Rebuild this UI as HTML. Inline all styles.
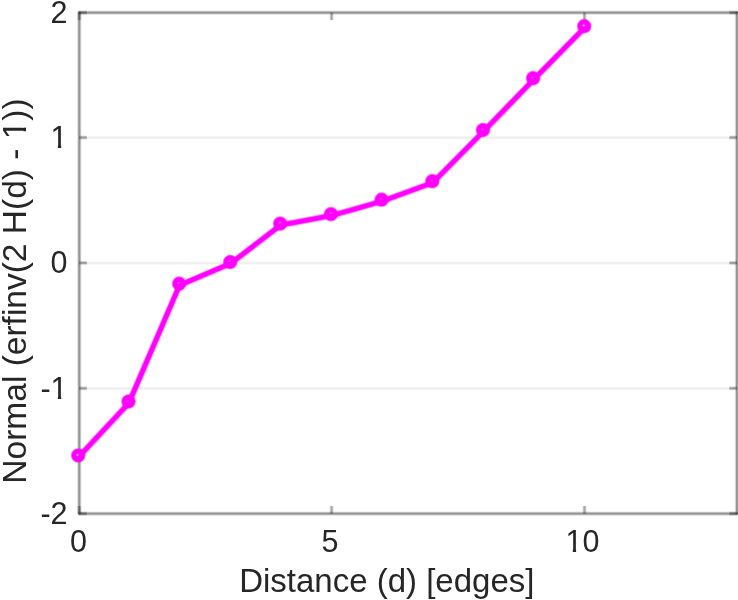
<!DOCTYPE html>
<html><head><meta charset="utf-8"><title>Normal plot</title>
<style>html,body{margin:0;padding:0;background:#fff;overflow:hidden}svg{display:block}text{font-family:"Liberation Sans",Arial,Helvetica,sans-serif;fill:#262626}</style></head><body>
<svg width="738" height="600" viewBox="0 0 738 600">
<rect width="738" height="600" fill="#fff"/>
<g>
<line x1="79.3" y1="388.5" x2="736.9" y2="388.5" stroke="#262626" stroke-opacity="0.03" stroke-width="3.2"/>
<line x1="79.3" y1="388.5" x2="736.9" y2="388.5" stroke="#262626" stroke-opacity="0.04" stroke-width="1.9"/>
<line x1="79.3" y1="263.1" x2="736.9" y2="263.1" stroke="#262626" stroke-opacity="0.03" stroke-width="3.2"/>
<line x1="79.3" y1="263.1" x2="736.9" y2="263.1" stroke="#262626" stroke-opacity="0.04" stroke-width="1.9"/>
<line x1="79.3" y1="137.7" x2="736.9" y2="137.7" stroke="#262626" stroke-opacity="0.03" stroke-width="3.2"/>
<line x1="79.3" y1="137.7" x2="736.9" y2="137.7" stroke="#262626" stroke-opacity="0.04" stroke-width="1.9"/>
<line x1="79.3" y1="11.6" x2="79.3" y2="514.6" stroke="#262626" stroke-opacity="0.08" stroke-width="4.6"/>
<line x1="79.3" y1="11.6" x2="79.3" y2="514.6" stroke="#262626" stroke-opacity="0.17" stroke-width="3.2"/>
<line x1="79.3" y1="11.6" x2="79.3" y2="514.6" stroke="#262626" stroke-opacity="0.35" stroke-width="1.8"/>
<line x1="736.9" y1="11.6" x2="736.9" y2="514.6" stroke="#262626" stroke-opacity="0.08" stroke-width="4.6"/>
<line x1="736.9" y1="11.6" x2="736.9" y2="514.6" stroke="#262626" stroke-opacity="0.17" stroke-width="3.2"/>
<line x1="736.9" y1="11.6" x2="736.9" y2="514.6" stroke="#262626" stroke-opacity="0.35" stroke-width="1.8"/>
<line x1="78.3" y1="12.6" x2="737.9" y2="12.6" stroke="#262626" stroke-opacity="0.08" stroke-width="4.6"/>
<line x1="78.3" y1="12.6" x2="737.9" y2="12.6" stroke="#262626" stroke-opacity="0.17" stroke-width="3.2"/>
<line x1="78.3" y1="12.6" x2="737.9" y2="12.6" stroke="#262626" stroke-opacity="0.35" stroke-width="1.8"/>
<line x1="78.3" y1="513.6" x2="737.9" y2="513.6" stroke="#262626" stroke-opacity="0.08" stroke-width="4.6"/>
<line x1="78.3" y1="513.6" x2="737.9" y2="513.6" stroke="#262626" stroke-opacity="0.17" stroke-width="3.2"/>
<line x1="78.3" y1="513.6" x2="737.9" y2="513.6" stroke="#262626" stroke-opacity="0.35" stroke-width="1.8"/>
<line x1="79.3" y1="513.6" x2="79.3" y2="506.1" stroke="#262626" stroke-opacity="0.06" stroke-width="4.6"/>
<line x1="79.3" y1="513.6" x2="79.3" y2="506.1" stroke="#262626" stroke-opacity="0.14" stroke-width="3.2"/>
<line x1="79.3" y1="513.6" x2="79.3" y2="506.1" stroke="#262626" stroke-opacity="0.28" stroke-width="1.8"/>
<line x1="79.3" y1="12.6" x2="79.3" y2="20.1" stroke="#262626" stroke-opacity="0.06" stroke-width="4.6"/>
<line x1="79.3" y1="12.6" x2="79.3" y2="20.1" stroke="#262626" stroke-opacity="0.14" stroke-width="3.2"/>
<line x1="79.3" y1="12.6" x2="79.3" y2="20.1" stroke="#262626" stroke-opacity="0.28" stroke-width="1.8"/>
<line x1="331.6" y1="513.6" x2="331.6" y2="506.1" stroke="#262626" stroke-opacity="0.06" stroke-width="4.6"/>
<line x1="331.6" y1="513.6" x2="331.6" y2="506.1" stroke="#262626" stroke-opacity="0.14" stroke-width="3.2"/>
<line x1="331.6" y1="513.6" x2="331.6" y2="506.1" stroke="#262626" stroke-opacity="0.28" stroke-width="1.8"/>
<line x1="331.6" y1="12.6" x2="331.6" y2="20.1" stroke="#262626" stroke-opacity="0.06" stroke-width="4.6"/>
<line x1="331.6" y1="12.6" x2="331.6" y2="20.1" stroke="#262626" stroke-opacity="0.14" stroke-width="3.2"/>
<line x1="331.6" y1="12.6" x2="331.6" y2="20.1" stroke="#262626" stroke-opacity="0.28" stroke-width="1.8"/>
<line x1="584.5" y1="513.6" x2="584.5" y2="506.1" stroke="#262626" stroke-opacity="0.06" stroke-width="4.6"/>
<line x1="584.5" y1="513.6" x2="584.5" y2="506.1" stroke="#262626" stroke-opacity="0.14" stroke-width="3.2"/>
<line x1="584.5" y1="513.6" x2="584.5" y2="506.1" stroke="#262626" stroke-opacity="0.28" stroke-width="1.8"/>
<line x1="584.5" y1="12.6" x2="584.5" y2="20.1" stroke="#262626" stroke-opacity="0.06" stroke-width="4.6"/>
<line x1="584.5" y1="12.6" x2="584.5" y2="20.1" stroke="#262626" stroke-opacity="0.14" stroke-width="3.2"/>
<line x1="584.5" y1="12.6" x2="584.5" y2="20.1" stroke="#262626" stroke-opacity="0.28" stroke-width="1.8"/>
<line x1="79.3" y1="513.6" x2="86.8" y2="513.6" stroke="#262626" stroke-opacity="0.06" stroke-width="4.6"/>
<line x1="79.3" y1="513.6" x2="86.8" y2="513.6" stroke="#262626" stroke-opacity="0.14" stroke-width="3.2"/>
<line x1="79.3" y1="513.6" x2="86.8" y2="513.6" stroke="#262626" stroke-opacity="0.28" stroke-width="1.8"/>
<line x1="736.9" y1="513.6" x2="729.4" y2="513.6" stroke="#262626" stroke-opacity="0.06" stroke-width="4.6"/>
<line x1="736.9" y1="513.6" x2="729.4" y2="513.6" stroke="#262626" stroke-opacity="0.14" stroke-width="3.2"/>
<line x1="736.9" y1="513.6" x2="729.4" y2="513.6" stroke="#262626" stroke-opacity="0.28" stroke-width="1.8"/>
<line x1="79.3" y1="388.3" x2="86.8" y2="388.3" stroke="#262626" stroke-opacity="0.06" stroke-width="4.6"/>
<line x1="79.3" y1="388.3" x2="86.8" y2="388.3" stroke="#262626" stroke-opacity="0.14" stroke-width="3.2"/>
<line x1="79.3" y1="388.3" x2="86.8" y2="388.3" stroke="#262626" stroke-opacity="0.28" stroke-width="1.8"/>
<line x1="736.9" y1="388.3" x2="729.4" y2="388.3" stroke="#262626" stroke-opacity="0.06" stroke-width="4.6"/>
<line x1="736.9" y1="388.3" x2="729.4" y2="388.3" stroke="#262626" stroke-opacity="0.14" stroke-width="3.2"/>
<line x1="736.9" y1="388.3" x2="729.4" y2="388.3" stroke="#262626" stroke-opacity="0.28" stroke-width="1.8"/>
<line x1="79.3" y1="262.9" x2="86.8" y2="262.9" stroke="#262626" stroke-opacity="0.06" stroke-width="4.6"/>
<line x1="79.3" y1="262.9" x2="86.8" y2="262.9" stroke="#262626" stroke-opacity="0.14" stroke-width="3.2"/>
<line x1="79.3" y1="262.9" x2="86.8" y2="262.9" stroke="#262626" stroke-opacity="0.28" stroke-width="1.8"/>
<line x1="736.9" y1="262.9" x2="729.4" y2="262.9" stroke="#262626" stroke-opacity="0.06" stroke-width="4.6"/>
<line x1="736.9" y1="262.9" x2="729.4" y2="262.9" stroke="#262626" stroke-opacity="0.14" stroke-width="3.2"/>
<line x1="736.9" y1="262.9" x2="729.4" y2="262.9" stroke="#262626" stroke-opacity="0.28" stroke-width="1.8"/>
<line x1="79.3" y1="137.5" x2="86.8" y2="137.5" stroke="#262626" stroke-opacity="0.06" stroke-width="4.6"/>
<line x1="79.3" y1="137.5" x2="86.8" y2="137.5" stroke="#262626" stroke-opacity="0.14" stroke-width="3.2"/>
<line x1="79.3" y1="137.5" x2="86.8" y2="137.5" stroke="#262626" stroke-opacity="0.28" stroke-width="1.8"/>
<line x1="736.9" y1="137.5" x2="729.4" y2="137.5" stroke="#262626" stroke-opacity="0.06" stroke-width="4.6"/>
<line x1="736.9" y1="137.5" x2="729.4" y2="137.5" stroke="#262626" stroke-opacity="0.14" stroke-width="3.2"/>
<line x1="736.9" y1="137.5" x2="729.4" y2="137.5" stroke="#262626" stroke-opacity="0.28" stroke-width="1.8"/>
<line x1="79.3" y1="12.6" x2="86.8" y2="12.6" stroke="#262626" stroke-opacity="0.06" stroke-width="4.6"/>
<line x1="79.3" y1="12.6" x2="86.8" y2="12.6" stroke="#262626" stroke-opacity="0.14" stroke-width="3.2"/>
<line x1="79.3" y1="12.6" x2="86.8" y2="12.6" stroke="#262626" stroke-opacity="0.28" stroke-width="1.8"/>
<line x1="736.9" y1="12.6" x2="729.4" y2="12.6" stroke="#262626" stroke-opacity="0.06" stroke-width="4.6"/>
<line x1="736.9" y1="12.6" x2="729.4" y2="12.6" stroke="#262626" stroke-opacity="0.14" stroke-width="3.2"/>
<line x1="736.9" y1="12.6" x2="729.4" y2="12.6" stroke="#262626" stroke-opacity="0.28" stroke-width="1.8"/>
</g>
<g>
<polyline fill="none" stroke="#ff00ff" stroke-opacity="0.30" stroke-width="6.8" stroke-linejoin="round" stroke-linecap="round" points="78.5,457.1 128.8,403.1 179.5,285.3 230.5,263.6 280.5,225.2 331.3,215.7 381.9,201.3 432.6,182.8 483.3,131.6 533.4,79.8 584.5,27.8"/>
<polyline fill="none" stroke="#ff00ff" stroke-opacity="0.55" stroke-width="5.4" stroke-linejoin="round" stroke-linecap="round" points="78.5,457.1 128.8,403.1 179.5,285.3 230.5,263.6 280.5,225.2 331.3,215.7 381.9,201.3 432.6,182.8 483.3,131.6 533.4,79.8 584.5,27.8"/>
<polyline fill="none" stroke="#ff00ff" stroke-opacity="1.00" stroke-width="4.3" stroke-linejoin="round" stroke-linecap="round" points="78.5,457.1 128.8,403.1 179.5,285.3 230.5,263.6 280.5,225.2 331.3,215.7 381.9,201.3 432.6,182.8 483.3,131.6 533.4,79.8 584.5,27.8"/>
<circle cx="78.2" cy="455.5" r="4.1" fill="none" stroke="#ff00ff" stroke-opacity="0.30" stroke-width="7.0"/>
<circle cx="78.2" cy="455.5" r="4.1" fill="none" stroke="#ff00ff" stroke-opacity="0.50" stroke-width="6.0"/>
<circle cx="78.2" cy="455.5" r="4.1" fill="none" stroke="#ff00ff" stroke-opacity="1.00" stroke-width="4.6"/>
<circle cx="128.5" cy="401.5" r="4.1" fill="none" stroke="#ff00ff" stroke-opacity="0.30" stroke-width="7.0"/>
<circle cx="128.5" cy="401.5" r="4.1" fill="none" stroke="#ff00ff" stroke-opacity="0.50" stroke-width="6.0"/>
<circle cx="128.5" cy="401.5" r="4.1" fill="none" stroke="#ff00ff" stroke-opacity="1.00" stroke-width="4.6"/>
<circle cx="179.2" cy="283.7" r="4.1" fill="none" stroke="#ff00ff" stroke-opacity="0.30" stroke-width="7.0"/>
<circle cx="179.2" cy="283.7" r="4.1" fill="none" stroke="#ff00ff" stroke-opacity="0.50" stroke-width="6.0"/>
<circle cx="179.2" cy="283.7" r="4.1" fill="none" stroke="#ff00ff" stroke-opacity="1.00" stroke-width="4.6"/>
<circle cx="230.2" cy="262.0" r="4.1" fill="none" stroke="#ff00ff" stroke-opacity="0.30" stroke-width="7.0"/>
<circle cx="230.2" cy="262.0" r="4.1" fill="none" stroke="#ff00ff" stroke-opacity="0.50" stroke-width="6.0"/>
<circle cx="230.2" cy="262.0" r="4.1" fill="none" stroke="#ff00ff" stroke-opacity="1.00" stroke-width="4.6"/>
<circle cx="280.2" cy="223.6" r="4.1" fill="none" stroke="#ff00ff" stroke-opacity="0.30" stroke-width="7.0"/>
<circle cx="280.2" cy="223.6" r="4.1" fill="none" stroke="#ff00ff" stroke-opacity="0.50" stroke-width="6.0"/>
<circle cx="280.2" cy="223.6" r="4.1" fill="none" stroke="#ff00ff" stroke-opacity="1.00" stroke-width="4.6"/>
<circle cx="331.0" cy="214.1" r="4.1" fill="none" stroke="#ff00ff" stroke-opacity="0.30" stroke-width="7.0"/>
<circle cx="331.0" cy="214.1" r="4.1" fill="none" stroke="#ff00ff" stroke-opacity="0.50" stroke-width="6.0"/>
<circle cx="331.0" cy="214.1" r="4.1" fill="none" stroke="#ff00ff" stroke-opacity="1.00" stroke-width="4.6"/>
<circle cx="381.6" cy="199.7" r="4.1" fill="none" stroke="#ff00ff" stroke-opacity="0.30" stroke-width="7.0"/>
<circle cx="381.6" cy="199.7" r="4.1" fill="none" stroke="#ff00ff" stroke-opacity="0.50" stroke-width="6.0"/>
<circle cx="381.6" cy="199.7" r="4.1" fill="none" stroke="#ff00ff" stroke-opacity="1.00" stroke-width="4.6"/>
<circle cx="432.3" cy="181.2" r="4.1" fill="none" stroke="#ff00ff" stroke-opacity="0.30" stroke-width="7.0"/>
<circle cx="432.3" cy="181.2" r="4.1" fill="none" stroke="#ff00ff" stroke-opacity="0.50" stroke-width="6.0"/>
<circle cx="432.3" cy="181.2" r="4.1" fill="none" stroke="#ff00ff" stroke-opacity="1.00" stroke-width="4.6"/>
<circle cx="483.0" cy="130.0" r="4.1" fill="none" stroke="#ff00ff" stroke-opacity="0.30" stroke-width="7.0"/>
<circle cx="483.0" cy="130.0" r="4.1" fill="none" stroke="#ff00ff" stroke-opacity="0.50" stroke-width="6.0"/>
<circle cx="483.0" cy="130.0" r="4.1" fill="none" stroke="#ff00ff" stroke-opacity="1.00" stroke-width="4.6"/>
<circle cx="533.1" cy="78.2" r="4.1" fill="none" stroke="#ff00ff" stroke-opacity="0.30" stroke-width="7.0"/>
<circle cx="533.1" cy="78.2" r="4.1" fill="none" stroke="#ff00ff" stroke-opacity="0.50" stroke-width="6.0"/>
<circle cx="533.1" cy="78.2" r="4.1" fill="none" stroke="#ff00ff" stroke-opacity="1.00" stroke-width="4.6"/>
<circle cx="584.2" cy="26.2" r="4.1" fill="none" stroke="#ff00ff" stroke-opacity="0.30" stroke-width="7.0"/>
<circle cx="584.2" cy="26.2" r="4.1" fill="none" stroke="#ff00ff" stroke-opacity="0.50" stroke-width="6.0"/>
<circle cx="584.2" cy="26.2" r="4.1" fill="none" stroke="#ff00ff" stroke-opacity="1.00" stroke-width="4.6"/>
<circle cx="77.6" cy="455.0" r="1.15" fill="#fff" fill-opacity="0.55"/>
<circle cx="127.9" cy="401.0" r="1.15" fill="#fff" fill-opacity="0.10"/>
<circle cx="178.6" cy="283.2" r="1.15" fill="#fff" fill-opacity="0.10"/>
<circle cx="229.6" cy="261.5" r="1.15" fill="#fff" fill-opacity="0.10"/>
<circle cx="279.6" cy="223.1" r="1.15" fill="#fff" fill-opacity="0.10"/>
<circle cx="330.4" cy="213.6" r="1.15" fill="#fff" fill-opacity="0.10"/>
<circle cx="381.0" cy="199.2" r="1.15" fill="#fff" fill-opacity="0.10"/>
<circle cx="431.7" cy="180.7" r="1.15" fill="#fff" fill-opacity="0.10"/>
<circle cx="482.4" cy="129.5" r="1.15" fill="#fff" fill-opacity="0.10"/>
<circle cx="532.5" cy="77.7" r="1.15" fill="#fff" fill-opacity="0.10"/>
<circle cx="583.6" cy="25.7" r="1.15" fill="#fff" fill-opacity="0.55"/>
<text transform="translate(78.5,552.0) scale(1,1.044)" font-size="30.5" text-anchor="middle">0</text>
<text transform="translate(330.0,552.0) scale(1,1.044)" font-size="30.5" text-anchor="middle">5</text>
<text transform="translate(582.4,552.0) scale(1,1.044)" font-size="30.5" text-anchor="middle">10</text>
<text transform="translate(67.5,523.9) scale(1,1.044)" font-size="30.5" text-anchor="end">-2</text>
<text transform="translate(67.5,398.6) scale(1,1.044)" font-size="30.5" text-anchor="end">-1</text>
<text transform="translate(67.5,273.2) scale(1,1.044)" font-size="30.5" text-anchor="end">0</text>
<text transform="translate(67.5,147.8) scale(1,1.044)" font-size="30.5" text-anchor="end">1</text>
<text transform="translate(67.5,22.9) scale(1,1.044)" font-size="30.5" text-anchor="end">2</text>
<text transform="translate(386.8,592.3) scale(1,1.030)" font-size="33.0" text-anchor="middle">Distance (d) [edges]</text>
<g transform="translate(26,291) rotate(-90)"><text font-size="33.5" text-anchor="middle">Normal (erfinv(2 H(d) - 1))</text>
<rect x="152.34" y="-3.75" width="7.41" height="4.85" fill="#fff"/>
<rect x="163.38" y="-3.75" width="6.50" height="4.85" fill="#fff"/>
</g>
<rect x="51.14" y="144.40" width="6.75" height="4.40" fill="#fff"/>
<rect x="61.19" y="144.40" width="5.95" height="4.40" fill="#fff"/>
<rect x="51.14" y="395.20" width="6.75" height="4.40" fill="#fff"/>
<rect x="61.19" y="395.20" width="5.95" height="4.40" fill="#fff"/>
<rect x="566.04" y="548.60" width="6.75" height="4.40" fill="#fff"/>
<rect x="576.09" y="548.60" width="5.95" height="4.40" fill="#fff"/>
</g>
</svg></body></html>
